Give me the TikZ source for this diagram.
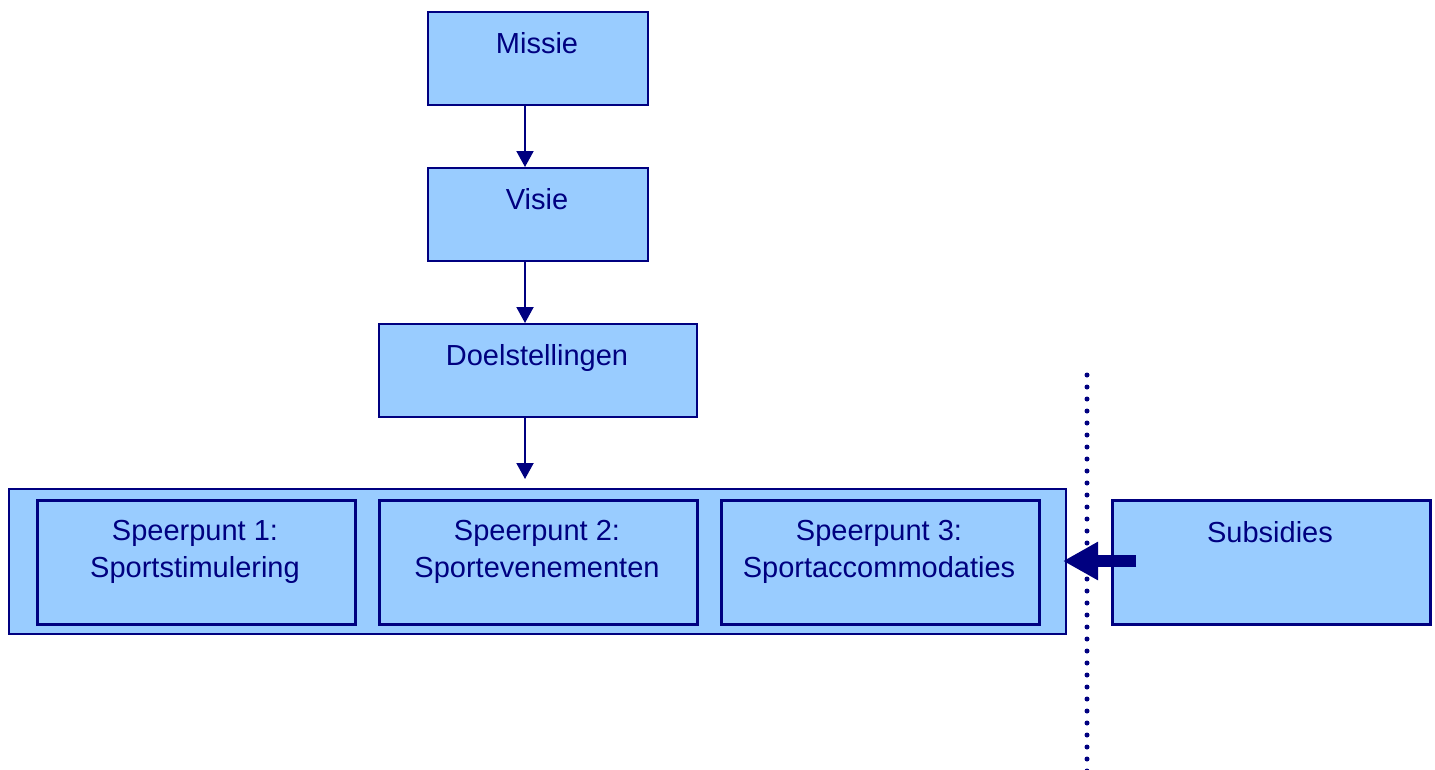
\documentclass[tikz,border=0pt]{standalone}
\usepackage{fontspec}
\setmainfont{Liberation Sans}
\usetikzlibrary{arrows.meta}
\definecolor{boxfill}{HTML}{99CCFF}
\definecolor{navy}{HTML}{000080}
\begin{document}
\begin{tikzpicture}[x=1pt,y=-1pt,
  box/.style={draw=navy,fill=boxfill,line width=2pt,inner sep=0pt,minimum width=#1,minimum height=93pt,anchor=north west},
  box/.default=220pt,
  inbox/.style={draw=navy,fill=boxfill,line width=2.5pt,inner sep=0pt,minimum width=318pt,minimum height=124pt,anchor=north west},
  lbl/.style={text=navy,font=\fontsize{29}{37}\selectfont,align=center,anchor=base,inner sep=0pt},
  flow/.style={draw=navy,line width=2pt,-{Triangle[width=17pt,length=16pt]}}]
\useasboundingbox (0,0) rectangle (1435,769);
% boxes
\node[box] (missie) at (427,11) {};
\node[box] (visie) at (427,167) {};
\node[box=318pt] (doel) at (378,323) {};
\node[draw=navy,fill=boxfill,line width=1.5pt,inner sep=0pt,minimum width=1057pt,minimum height=145pt,anchor=north west] (outer) at (8,488) {};
\node[inbox] (sp1) at (36,499) {};
\node[inbox] (sp2) at (378,499) {};
\node[inbox] (sp3) at (720,499) {};
\node[inbox] (subs) at (1111,499) {};
% labels
\node[lbl] (tmissie) at (537,53) {Missie};
\node[lbl] (tvisie) at (537,209) {Visie};
\node[lbl] (tdoel) at (537,365) {Doelstellingen};
\node[lbl] (tsp1) at (195,577) {Speerpunt 1:\\Sportstimulering};
\node[lbl] (tsp2) at (537,577) {Speerpunt 2:\\Sportevenementen};
\node[lbl] (tsp3) at (879,577) {Speerpunt 3:\\Sportaccommodaties};
\node[lbl] (tsubs) at (1270,542) {Subsidies};
% connectors
\draw[flow] (missie.south -| 525,0) -- (visie.north -| 525,0);
\draw[flow] (visie.south -| 525,0) -- (doel.north -| 525,0);
\coordinate (aend) at (525,479);
\draw[flow] (doel.south -| 525,0) -- (aend);
% dotted separator
\coordinate (dtop) at (1087,375);
\coordinate (dbot) at (1087,775);
\draw[navy,line width=5pt,line cap=round,dash pattern=on 0pt off 12pt] (dtop) -- (dbot);
% thick arrow
\coordinate (astart) at (1136,561);
\coordinate (atip) at (1063,561);
\draw[navy,line width=12pt,-{Triangle[width=36pt,length=35pt]}] (astart) -- (atip);
\end{tikzpicture}
\end{document}
